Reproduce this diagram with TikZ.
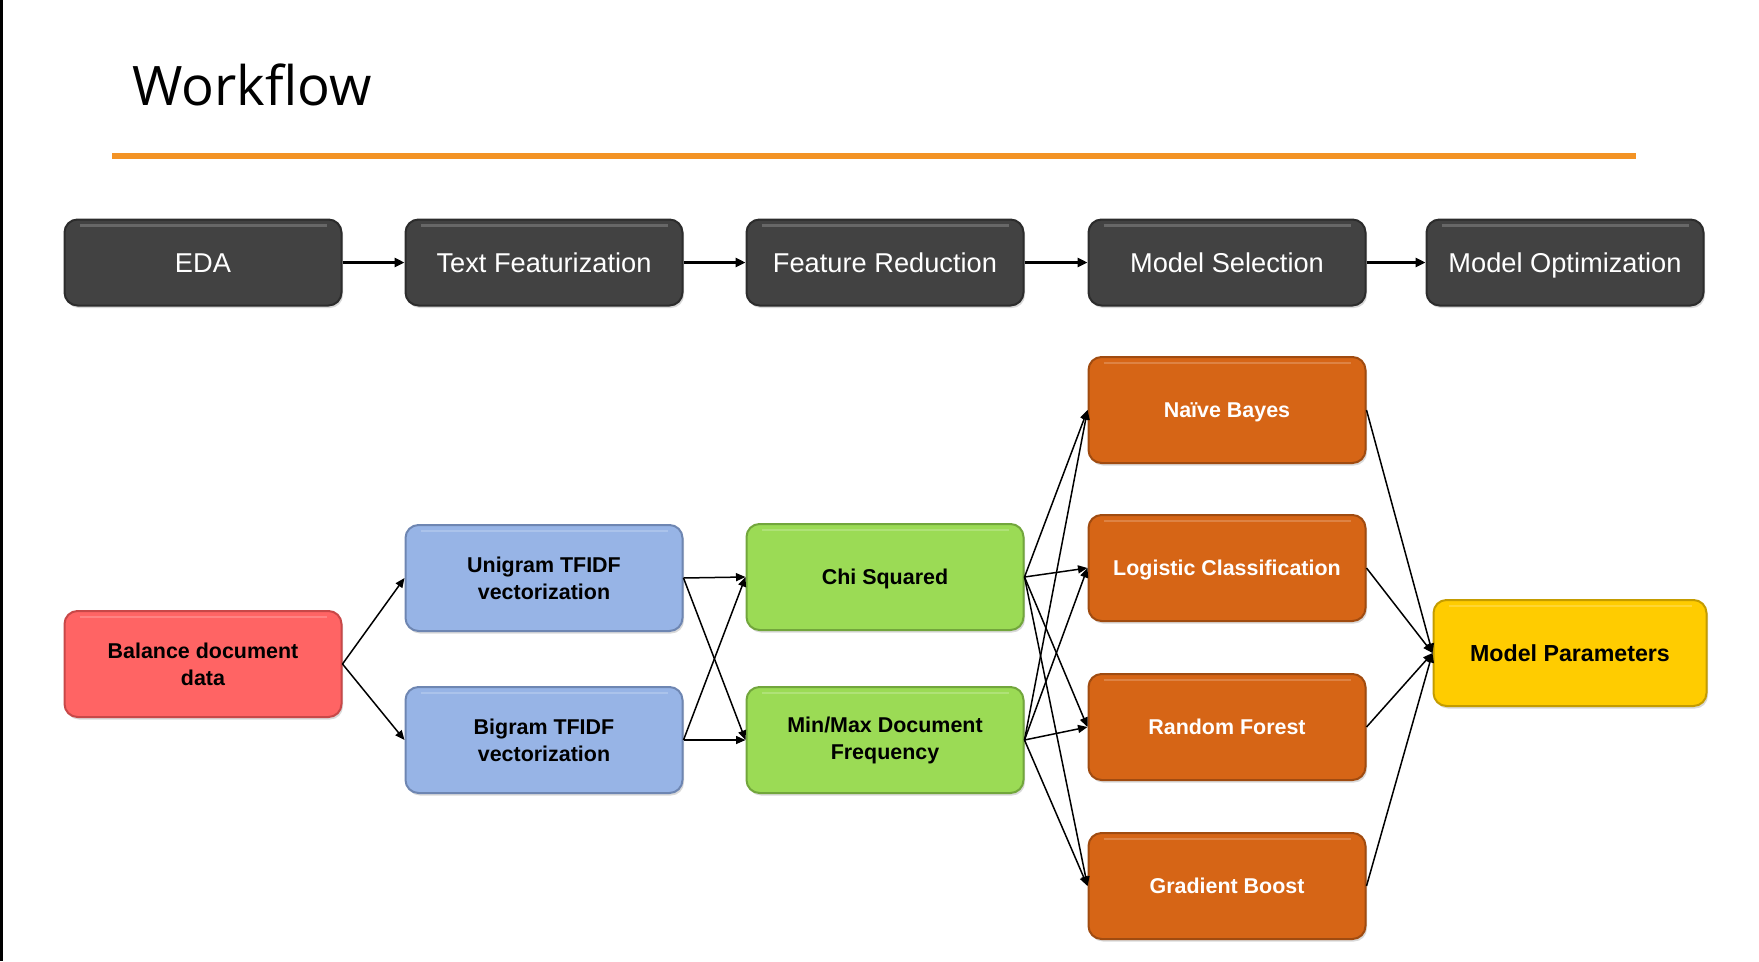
\documentclass[tikz,border=0pt]{standalone}
\usepackage{fontspec}
\setmainfont{Liberation Sans}
\newfontfamily\titlefont{Open Sans}
\usepackage{tikz}
\usetikzlibrary{arrows.meta,positioning,shadows}
\definecolor{wfgray}{HTML}{424242}
\definecolor{wfgrayedge}{HTML}{2C2C2C}
\definecolor{wfred}{HTML}{FF6464}
\definecolor{wfrededge}{HTML}{C84848}
\definecolor{wfblue}{HTML}{97B4E6}
\definecolor{wfblueedge}{HTML}{6E86B2}
\definecolor{wfgreen}{HTML}{9BDB55}
\definecolor{wfgreenedge}{HTML}{72A63C}
\definecolor{wforange}{HTML}{D66516}
\definecolor{wforangeedge}{HTML}{A04B10}
\definecolor{wfyellow}{HTML}{FFCC00}
\definecolor{wfyellowedge}{HTML}{C49C00}
\definecolor{wfrule}{HTML}{F39325}

\begin{document}
\begin{tikzpicture}[>={Triangle[length=0.2cm,width=0.18cm]},
    box/.style={rounded corners=0.26cm,minimum width=5.54cm,inner sep=0pt,line width=0.04cm,
      drop shadow={shadow xshift=0.03cm,shadow yshift=-0.05cm,opacity=0.3},
      path picture={\draw[white,opacity=0.2,line width=0.05cm]
        ([xshift=0.3cm,yshift=-0.12cm]path picture bounding box.north west) --
        ([xshift=-0.3cm,yshift=-0.12cm]path picture bounding box.north east);}},
    stage/.style={box,fill=wfgray,draw=wfgrayedge,text=white,minimum height=1.72cm,
      text height=11.1pt,text depth=0pt,font=\fontsize{15.5}{18}\selectfont},
    task/.style={box,minimum height=2.12cm,align=center,
      font=\fontsize{12.2}{15.4}\selectfont\bfseries},
    model/.style={task,fill=wforange,draw=wforangeedge,text=white,text height=8.8pt,text depth=0pt},
    flow/.style={->,line width=0.05cm},
    link/.style={->,line width=0.03cm,>={Triangle[length=0.19cm,width=0.16cm]}}]
    \useasboundingbox (0,0) rectangle (35.18,-19.22);
    \fill[black] (0,0) rectangle (0.05,-19.22);
    \node[anchor=base west,inner sep=0pt,font=\titlefont\fontsize{31}{36}\selectfont] (title) at (2.64,-2.10) {Workflow};
    \draw[wfrule,line width=0.12cm] (2.24,-3.12) -- (32.72,-3.12);
    % pipeline stages
    \node[stage] (eda) at (4.06,-5.25) {EDA};
    \node[stage] (feat) at (10.88,-5.25) {Text Featurization};
    \node[stage] (red) at (17.70,-5.25) {Feature Reduction};
    \node[stage] (sel) at (24.54,-5.25) {Model Selection};
    \node[stage] (opt) at (31.30,-5.25) {Model Optimization};
    \draw[flow] (eda) -- (feat);
    \draw[flow] (feat) -- (red);
    \draw[flow] (red) -- (sel);
    \draw[flow] (sel) -- (opt);
    % tasks
    \node[task,fill=wfred,draw=wfrededge] (bal) at (4.06,-13.28) {Balance document\\data};
    \node[task,fill=wfblue,draw=wfblueedge] (uni) at (10.88,-11.56) {Unigram TFIDF\\vectorization};
    \node[task,fill=wfblue,draw=wfblueedge] (bi) at (10.88,-14.80) {Bigram TFIDF\\vectorization};
    \node[task,fill=wfgreen,draw=wfgreenedge,text height=8.8pt,text depth=0pt] (chi) at (17.70,-11.54) {Chi Squared};
    \node[task,fill=wfgreen,draw=wfgreenedge] (mm) at (17.70,-14.80) {Min/Max Document\\Frequency};
    \node[model] (nb) at (24.54,-8.20) {Naïve Bayes};
    \node[model] (lc) at (24.54,-11.36) {Logistic Classification};
    \node[model] (rf) at (24.54,-14.54) {Random Forest};
    \node[model] (gb) at (24.54,-17.72) {Gradient Boost};
    \node[task,fill=wfyellow,draw=wfyellowedge,minimum width=5.46cm,
      font=\fontsize{13.2}{16}\selectfont\bfseries] (par) at (31.40,-13.06) {Model Parameters};
    \draw[link] (bal.east) -- (uni.west);
    \draw[link] (bal.east) -- (bi.west);
    \foreach \src in {uni,bi}
      \foreach \dst in {chi,mm}
        \draw[link] (\src.east) -- (\dst.west);
    \foreach \src in {chi,mm}
      \foreach \dst in {nb,lc,rf,gb}
        \draw[link] (\src.east) -- (\dst.west);
    \foreach \src in {nb,lc,rf,gb}
      \draw[link] (\src.east) -- (par.west);
  \end{tikzpicture}
\end{document}
